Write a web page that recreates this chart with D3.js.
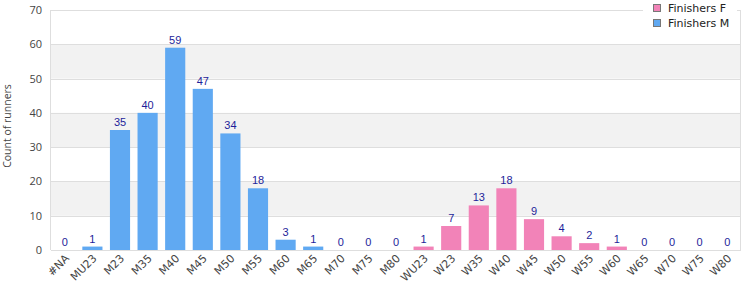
<!DOCTYPE html>
<html>
<head>
<meta charset="utf-8">
<script src="https://cdn.jsdelivr.net/npm/d3@7"></script>
<style>
  body { margin: 0; background: #fff; }
  svg { display: block; }
</style>
</head>
<body>
<svg id="chart" width="750" height="300"></svg>
<script>
const categories = ["#NA", "MU23", "M23", "M35", "M40", "M45", "M50", "M55", "M60", "M65", "M70", "M75", "M80",
  "WU23", "W23", "W35", "W40", "W45", "W50", "W55", "W60", "W65", "W70", "W75", "W80"];
const finishersM = [0, 1, 35, 40, 59, 47, 34, 18, 3, 1, 0, 0, 0, 0, 0, 0, 0, 0, 0, 0, 0, 0, 0, 0, 0];
const finishersF = [0, 0, 0, 0, 0, 0, 0, 0, 0, 0, 0, 0, 0, 1, 7, 13, 18, 9, 4, 2, 1, 0, 0, 0, 0];
const yTicks = [0, 10, 20, 30, 40, 50, 60, 70];
const seriesNames = ["Finishers F", "Finishers M"];

(function() {
  const M_COLOR = "#60a9f2";
  const F_COLOR = "#f283b8";
  const LABEL = "#1e1e9a";
  const GRID = "#dedede";
  const BAND = "#f2f2f2";

  const svg = d3.select("#chart");
  const margin = { top: 10, right: 9, bottom: 50, left: 51 };
  const width = 750, height = 300;
  const innerWidth = width - margin.left - margin.right;
  const innerHeight = height - margin.top - margin.bottom;

  const g = svg.append("g").attr("transform", `translate(${margin.left},${margin.top})`);

  const x = d3.scaleBand().domain(categories).range([0, innerWidth]).paddingInner(0.27).paddingOuter(0.135);
  const y = d3.scaleLinear().domain([0, 70]).range([innerHeight, 0]);

  // alternating bands
  g.selectAll("rect.band")
    .data(yTicks.slice(0, -1).filter((d, i) => i % 2 === 1))
    .join("rect")
    .attr("class", "band")
    .attr("x", 0).attr("width", innerWidth)
    .attr("y", d => y(d + 10)).attr("height", d => y(d) - y(d + 10))
    .attr("fill", BAND);

  // grid lines
  g.selectAll("line.grid")
    .data(yTicks)
    .join("line")
    .attr("class", "grid")
    .attr("x1", 0).attr("x2", innerWidth)
    .attr("y1", d => Math.round(y(d)) + 0.5).attr("y2", d => Math.round(y(d)) + 0.5)
    .attr("stroke", GRID);

  // frame
  g.append("line").attr("x1", -0.5).attr("x2", -0.5).attr("y1", 0).attr("y2", innerHeight)
    .attr("stroke", GRID);
  g.append("line").attr("x1", innerWidth - 0.5).attr("x2", innerWidth - 0.5).attr("y1", 0).attr("y2", innerHeight)
    .attr("stroke", GRID);

  // bars (stacked)
  const rows = categories.map((c, i) => ({ cat: c, m: finishersM[i], f: finishersF[i] }));

  g.selectAll("rect.bar-m")
    .data(rows.filter(d => d.m > 0))
    .join("rect")
    .attr("class", "bar-m")
    .attr("x", d => x(d.cat))
    .attr("width", x.bandwidth())
    .attr("y", d => y(d.m))
    .attr("height", d => y(0) - y(d.m))
    .attr("fill", M_COLOR);

  g.selectAll("rect.bar-f")
    .data(rows.filter(d => d.f > 0))
    .join("rect")
    .attr("class", "bar-f")
    .attr("x", d => x(d.cat))
    .attr("width", x.bandwidth())
    .attr("y", d => y(d.m + d.f))
    .attr("height", d => y(d.m) - y(d.m + d.f))
    .attr("fill", F_COLOR);

  // value labels
  g.selectAll("text.val")
    .data(rows)
    .join("text")
    .attr("class", "val")
    .attr("x", d => x(d.cat) + x.bandwidth() / 2)
    .attr("y", d => y(d.m + d.f) - 4)
    .attr("text-anchor", "middle")
    .attr("font-family", "Liberation Sans, Arial, sans-serif")
    .attr("font-size", 11)
    .attr("fill", LABEL)
    .text(d => d.m + d.f);

  // y axis
  const yAxis = g.append("g")
    .call(d3.axisLeft(y).tickValues(yTicks).tickSize(0).tickPadding(9));
  yAxis.select(".domain").remove();
  yAxis.selectAll("text")
    .attr("font-family", "Open Sans, sans-serif")
    .attr("font-size", 11)
    .attr("fill", "#444");

  // x axis
  const xAxis = g.append("g")
    .attr("transform", `translate(0,${innerHeight})`)
    .call(d3.axisBottom(x).tickSize(0).tickPadding(0));
  xAxis.select(".domain").attr("stroke", GRID).attr("d", `M0,0.5H${innerWidth}`);
  xAxis.selectAll("text")
    .attr("font-family", "DejaVu Sans, sans-serif")
    .attr("font-size", 11)
    .attr("fill", "#444")
    .attr("text-anchor", "end")
    .attr("dy", null)
    .attr("transform", "translate(5,9) rotate(-45)");

  // y axis title
  svg.append("text")
    .attr("transform", "translate(7,126) rotate(-90)")
    .attr("text-anchor", "middle")
    .attr("dy", "0.35em")
    .attr("font-family", "Open Sans, sans-serif")
    .attr("font-size", 10.5)
    .attr("fill", "#444")
    .text("Count of runners");

  // legend
  const legend = svg.append("g");
  legend.append("rect")
    .attr("x", 643).attr("y", 0).attr("width", 94).attr("height", 31)
    .attr("fill", "#fff");
  const colors = [F_COLOR, M_COLOR];
  const items = legend.selectAll("g.item")
    .data(seriesNames)
    .join("g")
    .attr("class", "item")
    .attr("transform", (d, i) => `translate(653,${8 + i * 15})`);
  items.append("rect")
    .attr("x", 0.5).attr("y", -3.5).attr("width", 7).attr("height", 7)
    .attr("fill", (d, i) => colors[i])
    .attr("stroke", "#777");
  items.append("text")
    .attr("x", 15).attr("y", 0)
    .attr("dy", "0.35em")
    .attr("font-family", "DejaVu Sans, sans-serif")
    .attr("font-size", 11)
    .attr("fill", "#222")
    .text(d => d);
})();
</script>
</body>
</html>
